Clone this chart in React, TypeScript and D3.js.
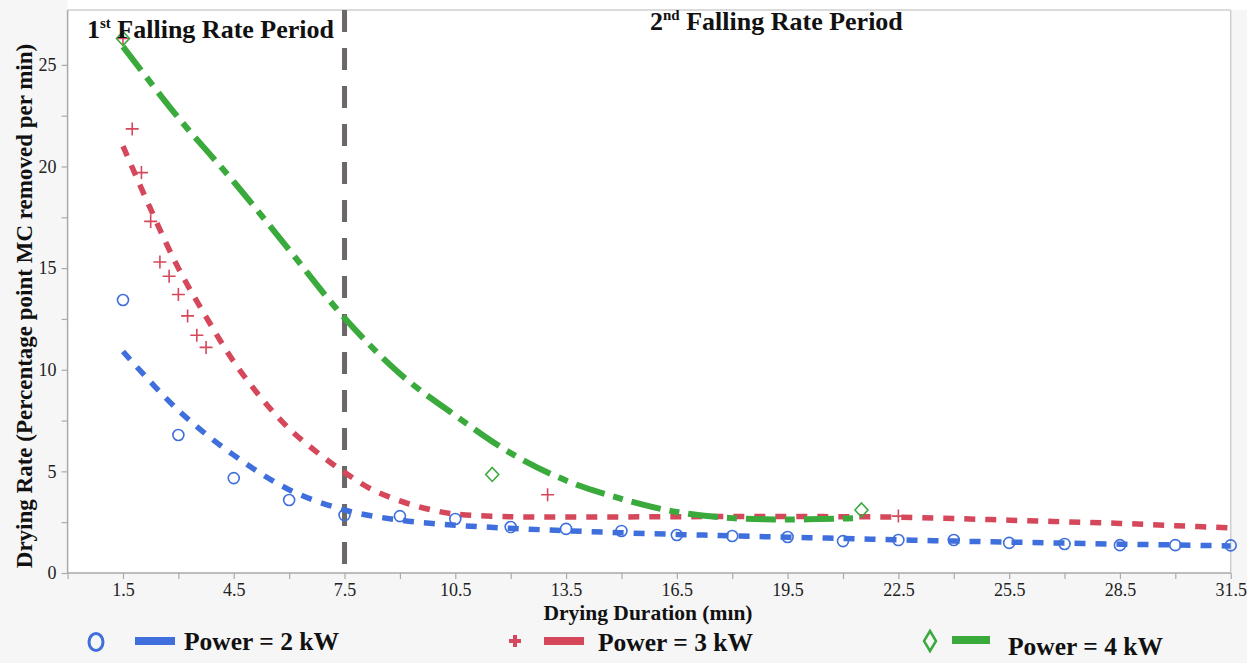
import React, { useEffect, useRef } from 'react';
import * as d3 from 'd3';

// ---------- data ----------
const xMajorTicks = [1.5, 4.5, 7.5, 10.5, 13.5, 16.5, 19.5, 22.5, 25.5, 28.5, 31.5];
const xMinorTicks = [0, 3, 6, 9, 12, 15, 18, 21, 24, 27, 30];
const yMajorTicks = [0, 5, 10, 15, 20, 25];
const yMinorTicks = [2.5, 7.5, 12.5, 17.5, 22.5];

const time2kW = [1.5, 3, 4.5, 6, 7.5, 9, 10.5, 12, 13.5, 15, 16.5, 18, 19.5, 21, 22.5, 24, 25.5, 27, 28.5, 30, 31.5];
const rate2kW = [13.43, 6.79, 4.67, 3.59, 2.85, 2.8, 2.66, 2.26, 2.17, 2.07, 1.87, 1.82, 1.77, 1.57, 1.62, 1.62, 1.48, 1.43, 1.37, 1.37, 1.36];

const time3kW = [1.5, 1.75, 2.0, 2.25, 2.5, 2.75, 3.0, 3.25, 3.5, 3.75, 13.0, 22.5];
const rate3kW = [26.3, 21.85, 19.7, 17.3, 15.3, 14.6, 13.7, 12.65, 11.7, 11.1, 3.85, 2.8];

const time4kW = [1.5, 11.5, 21.5];
const rate4kW = [26.3, 4.85, 3.1];

const fitTime2kW = [1.5, 3, 4.5, 6, 7.5, 9, 10.5, 12, 13.5, 15, 16.5, 18, 19.5, 21, 22.5, 24, 25.5, 27, 28.5, 30, 31.5];
const fitRate2kW = [10.9, 8.0, 5.8, 4.1, 3.1, 2.6, 2.35, 2.2, 2.08, 1.98, 1.9, 1.83, 1.76, 1.7, 1.63, 1.57, 1.52, 1.47, 1.42, 1.38, 1.33];

const fitTime3kW = [1.5, 2.25, 3, 3.75, 4.5, 5.25, 6, 6.75, 7.5, 8.25, 9, 9.75, 10.5, 12, 13.5, 15, 16.5, 18, 19.5, 21, 22.5, 24, 25.5, 27, 28.5, 30, 31.5];
const fitRate3kW = [21.0, 17.9, 15.0, 12.6, 10.4, 8.6, 7.1, 5.95, 4.95, 4.1, 3.55, 3.15, 2.9, 2.77, 2.75, 2.76, 2.77, 2.78, 2.78, 2.77, 2.75, 2.68, 2.6, 2.52, 2.44, 2.33, 2.22];

const fitTime4kW = [1.5, 3, 4.5, 6, 7.5, 9, 10.5, 12, 13.5, 15, 16.5, 18, 19.5, 21, 21.5];
const fitRate4kW = [25.9, 22.4, 19.25, 15.9, 12.55, 9.8, 7.75, 5.9, 4.55, 3.65, 3.0, 2.7, 2.63, 2.68, 2.7];

const boundaryTime = 7.5;

const seriesNames = ['Power = 2 kW', 'Power = 3 kW', 'Power = 4 kW'];
const BLUE = '#3f6fdc';
const RED = '#d5475a';
const GREEN = '#3aaa3c';
const GRAY = '#6d6868';

const W = 1247;
const H = 663;
const PL = 67.6, PR = 1230.7, PT = 10, PB = 573;
const SERIF = "'Liberation Serif', Tinos, 'Times New Roman', Times, 'DejaVu Serif', serif";

export default function App() {
  const ref = useRef<SVGSVGElement>(null);

  useEffect(() => {
    const svg = d3.select(ref.current);
    svg.selectAll('*').remove();

    const x = d3.scaleLinear().domain([0, 31.5]).range([PL, PR]);
    const y = d3.scaleLinear().domain([0, 27.7]).range([PB, PT]);

    // background
    svg.append('rect').attr('width', W).attr('height', H).attr('fill', '#f6f6f6');
    svg.append('rect').attr('x', PL).attr('y', 0).attr('width', W - PL).attr('height', PT).attr('fill', '#ffffff');
    svg.append('rect').attr('x', PL).attr('y', PT).attr('width', PR - PL).attr('height', PB - PT).attr('fill', '#ffffff');

    // frame
    svg.append('line').attr('x1', PL).attr('x2', PR).attr('y1', PT).attr('y2', PT).attr('stroke', '#cfcfcf').attr('stroke-width', 1.5);
    svg.append('line').attr('x1', PR).attr('x2', PR).attr('y1', PT).attr('y2', PB).attr('stroke', '#cfcfcf').attr('stroke-width', 1.5);

    // axes
    const xAxisMajor = d3.axisBottom(x).tickValues(xMajorTicks).tickSize(6).tickPadding(4).tickFormat(d3.format('.1f'));
    const gx = svg.append('g').attr('transform', `translate(0,${PB})`).call(xAxisMajor);
    const xAxisMinor = d3.axisBottom(x).tickValues(xMinorTicks).tickSize(6).tickFormat(() => '');
    const gx2 = svg.append('g').attr('transform', `translate(0,${PB})`).call(xAxisMinor);
    gx2.select('.domain').remove();

    const yAxisMajor = d3.axisLeft(y).tickValues(yMajorTicks).tickSize(6).tickPadding(5);
    const gy = svg.append('g').attr('transform', `translate(${PL},0)`).call(yAxisMajor);
    const yAxisMinor = d3.axisLeft(y).tickValues(yMinorTicks).tickSize(6).tickFormat(() => '');
    const gy2 = svg.append('g').attr('transform', `translate(${PL},0)`).call(yAxisMinor);
    gy2.select('.domain').remove();

    [gx, gy, gx2, gy2].forEach(g => {
      g.attr('font-family', null).attr('font-size', null);
      g.select('.domain').attr('stroke', '#a9a9a9').attr('stroke-width', 1.5);
      g.selectAll('.tick line').attr('stroke', '#aaaaaa').attr('stroke-width', 1.2);
      g.selectAll('.tick text').style('font-family', SERIF).style('font-size', '18px').attr('fill', '#222');
    });
    gy.select('.domain').attr('d', `M0,${PT}V${PB}`);
    gx.select('.domain').attr('d', `M${PL},0H${PR}`);

    // axis titles
    svg.append('text').attr('x', 648).attr('y', 620).attr('text-anchor', 'middle')
      .style('font-family', SERIF).style('font-weight', 'bold').style('font-size', '21.5px').attr('fill', '#111')
      .text('Drying Duration (mın)');
    svg.append('text').attr('transform', `translate(32,306) rotate(-90)`).attr('text-anchor', 'middle')
      .style('font-family', SERIF).style('font-weight', 'bold').style('font-size', '23px').attr('fill', '#111')
      .text('Drying Rate (Percentage point MC removed per min)');

    // boundary line
    svg.append('line').attr('x1', x(boundaryTime)).attr('x2', x(boundaryTime)).attr('y1', PT).attr('y2', PB)
      .attr('stroke', GRAY).attr('stroke-width', 5).attr('stroke-dasharray', '22,16');

    // fit lines
    const line = d3.line<[number, number]>().x(d => x(d[0])).y(d => y(d[1])).curve(d3.curveCatmullRom);
    const zip = (a: number[], b: number[]) => a.map((v, i) => [v, b[i]] as [number, number]);

    svg.append('path').attr('d', line(zip(fitTime3kW, fitRate3kW))).attr('fill', 'none')
      .attr('stroke', RED).attr('stroke-width', 5.5).attr('stroke-dasharray', '11,10');
    svg.append('path').attr('d', line(zip(fitTime4kW, fitRate4kW))).attr('fill', 'none')
      .attr('stroke', GREEN).attr('stroke-width', 6).attr('stroke-dasharray', '30,9,10,9');
    svg.append('path').attr('d', line(zip(fitTime2kW, fitRate2kW))).attr('fill', 'none')
      .attr('stroke', BLUE).attr('stroke-width', 5.5).attr('stroke-dasharray', '11,10');

    // points
    const p2 = zip(time2kW, rate2kW);
    svg.append('g').selectAll('circle').data(p2).join('circle')
      .attr('cx', d => x(d[0])).attr('cy', d => y(d[1])).attr('r', 5.5)
      .attr('fill', 'none').attr('stroke', BLUE).attr('stroke-width', 1.6);

    const p3 = zip(time3kW, rate3kW);
    svg.append('g').selectAll('path').data(p3).join('path')
      .attr('d', d => `M${x(d[0]) - 6.5},${y(d[1])}H${x(d[0]) + 6.5}M${x(d[0])},${y(d[1]) - 6.5}V${y(d[1]) + 6.5}`)
      .attr('fill', 'none').attr('stroke', RED).attr('stroke-width', 1.6);

    const p4 = zip(time4kW, rate4kW);
    svg.append('g').selectAll('path').data(p4).join('path')
      .attr('d', d => `M${x(d[0])},${y(d[1]) - 7}L${x(d[0]) + 6.5},${y(d[1])}L${x(d[0])},${y(d[1]) + 7}L${x(d[0]) - 6.5},${y(d[1])}Z`)
      .attr('fill', 'none').attr('stroke', GREEN).attr('stroke-width', 1.6);

    // period labels
    const t1 = svg.append('text').attr('x', 87).attr('y', 38)
      .style('font-family', SERIF).style('font-weight', 'bold').style('font-size', '26px').attr('fill', '#111');
    t1.append('tspan').text('1');
    t1.append('tspan').style('font-size', '15px').attr('dy', -10).text('st');
    t1.append('tspan').attr('dy', 10).text(' Falling Rate Period');
    const t2 = svg.append('text').attr('x', 650).attr('y', 30)
      .style('font-family', SERIF).style('font-weight', 'bold').style('font-size', '26px').attr('fill', '#111');
    t2.append('tspan').text('2');
    t2.append('tspan').style('font-size', '15px').attr('dy', -10).text('nd');
    t2.append('tspan').attr('dy', 10).text(' Falling Rate Period');

    // legend
    const lg = svg.append('g');
    lg.append('ellipse').attr('cx', 96).attr('cy', 642).attr('rx', 7).attr('ry', 8.5)
      .attr('fill', 'none').attr('stroke', BLUE).attr('stroke-width', 3);
    lg.append('rect').attr('x', 135).attr('y', 637).attr('width', 40).attr('height', 8).attr('fill', BLUE);
    lg.append('text').attr('x', 184).attr('y', 650).text(seriesNames[0]);

    lg.append('path').attr('d', 'M509,641H521M515,635V647').attr('stroke', RED).attr('stroke-width', 4);
    lg.append('rect').attr('x', 544).attr('y', 637).attr('width', 40).attr('height', 8).attr('fill', RED);
    lg.append('text').attr('x', 598).attr('y', 651).text(seriesNames[1]);

    lg.append('path').attr('d', 'M930,631L936,641L930,651L924,641Z').attr('fill', 'none').attr('stroke', GREEN).attr('stroke-width', 2.5);
    lg.append('rect').attr('x', 952).attr('y', 636).attr('width', 38).attr('height', 8).attr('fill', GREEN);
    lg.append('text').attr('x', 1008).attr('y', 655).text(seriesNames[2]);

    lg.selectAll('text').style('font-family', SERIF).style('font-weight', 'bold').style('font-size', '25.5px').attr('fill', '#111');
  }, []);

  return (
    <svg ref={ref} width={W} height={H} style={{ position: 'absolute', left: 0, top: 0, display: 'block' }} />
  );
}
